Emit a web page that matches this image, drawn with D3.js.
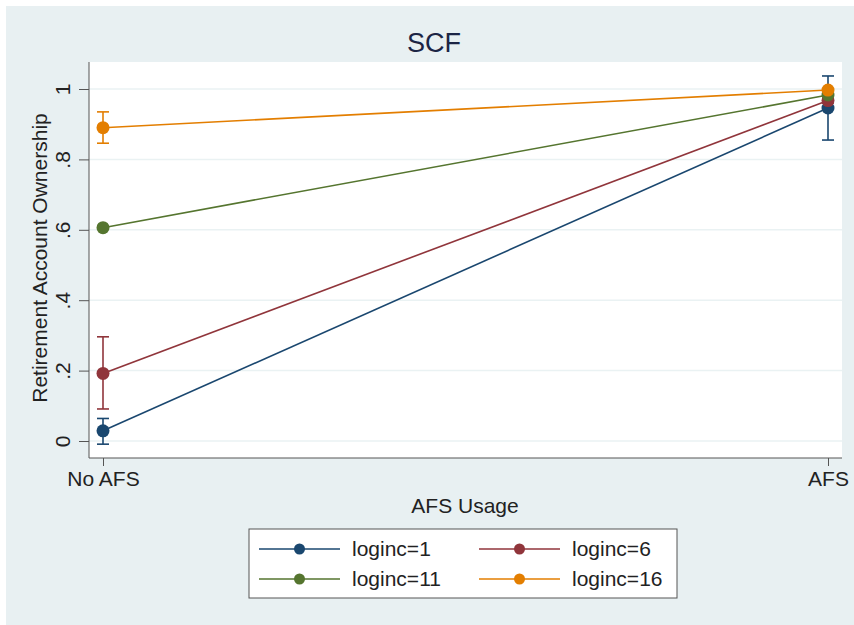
<!DOCTYPE html>
<html>
<head>
<meta charset="utf-8">
<script src="https://cdn.jsdelivr.net/npm/d3@7"></script>
<style>
  body { margin: 0; background: #fff; }
  text { font-family: "Liberation Sans", Arial, sans-serif; }
</style>
</head>
<body>
<div id="chart"></div>
<script>
// categories on the x axis
var categories = ["No AFS", "AFS"];
var seriesNames = ["loginc=1", "loginc=6", "loginc=11", "loginc=16"];
var seriesColors = ["#1a476f", "#90353b", "#55752f", "#e37e00"];

// predicted values, one array per series (No AFS, AFS)
var loginc1 = [0.029, 0.946];
var loginc6 = [0.192, 0.967];
var loginc11 = [0.606, 0.983];
var loginc16 = [0.890, 0.997];

// confidence interval bounds
var loginc1Lo = [-0.009, 0.855], loginc1Hi = [0.064, 1.037];
var loginc6Lo = [0.091, 0.960], loginc6Hi = [0.296, 0.974];
var loginc11Lo = [0.603, 0.980], loginc11Hi = [0.609, 0.986];
var loginc16Lo = [0.846, 0.995], loginc16Hi = [0.935, 0.999];

var yTicks = [0, 0.2, 0.4, 0.6, 0.8, 1];
var yTickLabels = ["0", ".2", ".4", ".6", ".8", "1"];

var series = [
  { name: seriesNames[0], color: seriesColors[0], values: loginc1, lo: loginc1Lo, hi: loginc1Hi },
  { name: seriesNames[1], color: seriesColors[1], values: loginc6, lo: loginc6Lo, hi: loginc6Hi },
  { name: seriesNames[2], color: seriesColors[2], values: loginc11, lo: loginc11Lo, hi: loginc11Hi },
  { name: seriesNames[3], color: seriesColors[3], values: loginc16, lo: loginc16Lo, hi: loginc16Hi }
];

var width = 854, height = 625;
var plot = { left: 89, right: 842, top: 62, bottom: 458 };

var svg = d3.select("#chart").append("svg")
  .attr("width", width)
  .attr("height", height);

// outer background
svg.append("rect")
  .attr("x", 6).attr("y", 6)
  .attr("width", width - 6).attr("height", height - 6)
  .attr("fill", "#e8f0f2");

// plot region
svg.append("rect")
  .attr("x", plot.left).attr("y", plot.top)
  .attr("width", plot.right - plot.left).attr("height", plot.bottom - plot.top)
  .attr("fill", "#ffffff");

var x = d3.scalePoint()
  .domain(categories)
  .range([103, 828]);

var y = d3.scaleLinear()
  .domain([0, 1])
  .range([441, 89]);

// gridlines
svg.append("g")
  .selectAll("line")
  .data(yTicks)
  .enter().append("line")
  .attr("x1", plot.left).attr("x2", plot.right)
  .attr("y1", function (d) { return y(d); })
  .attr("y2", function (d) { return y(d); })
  .attr("stroke", "#eaf2f3")
  .attr("stroke-width", 1.5);

// y axis
var yAxis = d3.axisLeft(y)
  .tickValues(yTicks)
  .tickFormat(function (d, i) { return yTickLabels[i]; })
  .tickSize(10);

var gy = svg.append("g")
  .attr("transform", "translate(" + plot.left + ",0)")
  .call(yAxis);
gy.select(".domain").attr("d", "M0," + plot.top + "V" + plot.bottom).attr("stroke", "#555");
gy.selectAll(".tick line").attr("stroke", "#555");
gy.selectAll(".tick text")
  .attr("font-size", 21)
  .attr("fill", "#222")
  .attr("text-anchor", "middle")
  .attr("x", 0).attr("dy", "0.35em")
  .attr("transform", "translate(-26,0) rotate(-90)");

// x axis
var xAxis = d3.axisBottom(x)
  .tickSize(8)
  .tickPadding(5);

var gx = svg.append("g")
  .attr("transform", "translate(0," + plot.bottom + ")")
  .call(xAxis);
gx.select(".domain").attr("d", "M" + plot.left + ",0H" + plot.right).attr("stroke", "#555");
gx.selectAll(".tick line").attr("stroke", "#555");
gx.selectAll(".tick text").attr("font-size", 21).attr("fill", "#222");

// titles
svg.append("text")
  .attr("x", 434).attr("y", 52)
  .attr("text-anchor", "middle")
  .attr("font-size", 27)
  .attr("fill", "#1c2545")
  .text("SCF");

svg.append("text")
  .attr("x", 465).attr("y", 513)
  .attr("text-anchor", "middle")
  .attr("font-size", 21)
  .attr("fill", "#222")
  .text("AFS Usage");

svg.append("text")
  .attr("transform", "translate(47,258) rotate(-90)")
  .attr("text-anchor", "middle")
  .attr("font-size", 21)
  .attr("fill", "#222")
  .text("Retirement Account Ownership");

var line = d3.line()
  .x(function (d, i) { return x(categories[i]); })
  .y(function (d) { return y(d); });

// connecting lines
svg.append("g").selectAll("path")
  .data(series)
  .enter().append("path")
  .attr("d", function (d) { return line(d.values); })
  .attr("fill", "none")
  .attr("stroke", function (d) { return d.color; })
  .attr("stroke-width", 1.6);

// error bars
var capW = 6;
series.forEach(function (s) {
  var g = svg.append("g").attr("stroke", s.color).attr("stroke-width", 1.6);
  categories.forEach(function (c, i) {
    var cx = x(c);
    g.append("line").attr("x1", cx).attr("x2", cx).attr("y1", y(s.lo[i])).attr("y2", y(s.hi[i]));
    g.append("line").attr("x1", cx - capW).attr("x2", cx + capW).attr("y1", y(s.lo[i])).attr("y2", y(s.lo[i]));
    g.append("line").attr("x1", cx - capW).attr("x2", cx + capW).attr("y1", y(s.hi[i])).attr("y2", y(s.hi[i]));
  });
});

// markers
series.forEach(function (s) {
  svg.append("g").selectAll("circle")
    .data(s.values)
    .enter().append("circle")
    .attr("cx", function (d, i) { return x(categories[i]); })
    .attr("cy", function (d) { return y(d); })
    .attr("r", 6.5)
    .attr("fill", s.color);
});

// legend
var legend = svg.append("g");
legend.append("rect")
  .attr("x", 249).attr("y", 529)
  .attr("width", 428).attr("height", 69)
  .attr("fill", "#fff")
  .attr("stroke", "#555")
  .attr("stroke-width", 1);

var legendPos = [
  { x: 259, y: 549 }, { x: 479, y: 549 },
  { x: 259, y: 579 }, { x: 479, y: 579 }
];

series.forEach(function (s, i) {
  var p = legendPos[i];
  var item = legend.append("g").attr("transform", "translate(" + p.x + "," + p.y + ")");
  item.append("line")
    .attr("x1", 0).attr("x2", 81)
    .attr("stroke", s.color).attr("stroke-width", 1.6);
  item.append("circle")
    .attr("cx", 40.5).attr("r", 5.5)
    .attr("fill", s.color);
  item.append("text")
    .attr("x", 93).attr("dy", "0.35em")
    .attr("font-size", 21)
    .attr("fill", "#222")
    .text(s.name);
});
</script>
</body>
</html>
